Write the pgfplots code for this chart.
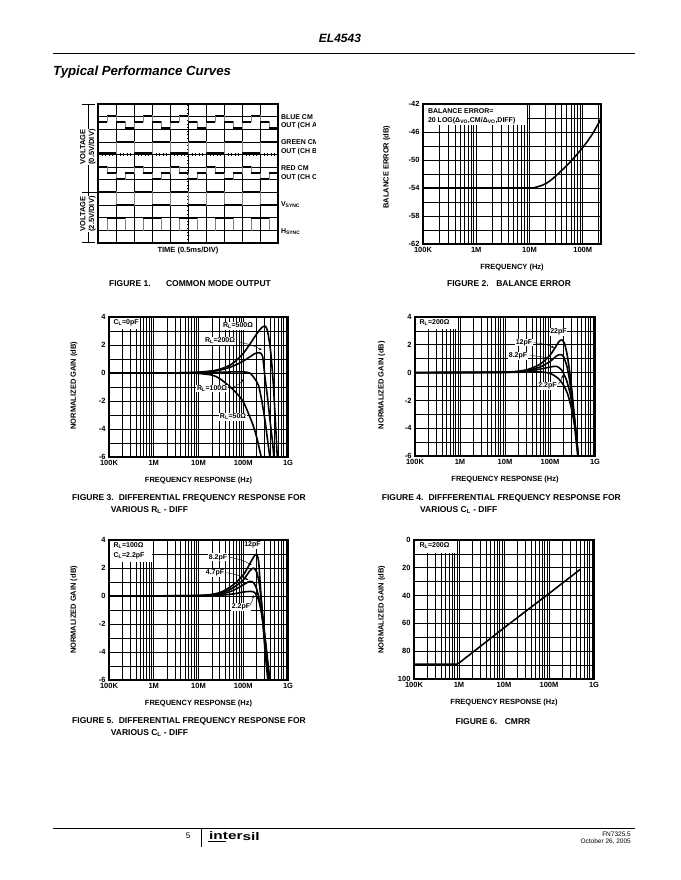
\documentclass[border=0pt]{standalone}
\usepackage{fontspec}
\setmainfont{Liberation Sans}
\usepackage{pgfplots}
\pgfplotsset{compat=1.18}
\usetikzlibrary{arrows.meta}

\pgfplotsset{
  sheet/.style={
    scale only axis, anchor=north west,
    axis line style={line width=1.1pt},
    grid=both,
    major grid style={black, line width=0.75pt},
    minor grid style={black, line width=0.75pt},
    major tick length=0pt, minor tick length=0pt,
    tick label style={font=\bfseries\fontsize{7.5}{9}\selectfont},
    label style={font=\bfseries\fontsize{7.5}{9}\selectfont},
    /pgf/number format/assume math mode=true,
  },
  fqaxis/.style={xmin=1e5, xmax=1e9,
    xtick={1e5,1e6,1e7,1e8,1e9}, xticklabels={100K,1M,10M,100M,1G},
    minor xtick={2e5,3e5,4e5,5e5,6e5,7e5,8e5,9e5,2e6,3e6,4e6,5e6,6e6,7e6,8e6,9e6,
      2e7,3e7,4e7,5e7,6e7,7e7,8e7,9e7,2e8,3e8,4e8,5e8,6e8,7e8,8e8,9e8},
    xlabel={FREQUENCY RESPONSE (Hz)},
    xlabel style={at={(axis description cs:0.5,-0.17)}, anchor=center},
  },
  gainaxis/.style={ymin=-6, ymax=4, ytick={-6,-4,-2,0,2,4}, yticklabels={-6,-4,-2,0,2,4},
    minor ytick={-5,-3,-1,1,3}, ylabel={NORMALIZED GAIN (dB)}},
  crv/.style={black, line width=1.6pt, smooth, tension=0.4, line join=round},
  scopetrace/.style={black, line width=1.7pt, jump mark left},
  scopeedge/.style={gray, line width=0.4pt, const plot},
}
\tikzset{
  lbl/.style={font=\bfseries\fontsize{7}{8.5}\selectfont, inner sep=0.8pt},
  figcap/.style={font=\bfseries\fontsize{8.5}{10}\selectfont, inner sep=0pt},
  arr/.style={line width=0.4pt, -{Stealth[length=3pt,width=2.2pt]}},
}

% scope traces of figure 1 (grid units: 10 x 11 divisions)
\pgfplotstableread{
x y
0 9.6
0.5 10.1
1 9.6
1.5 9.1
2 9.6
2.5 10.1
3 9.6
3.5 9.1
4 9.6
4.5 10.1
5 9.6
5.5 9.1
6 9.6
6.5 10.1
7 9.6
7.5 9.1
8 9.6
8.5 10.1
9 9.6
9.5 9.1
10 9.1
}\blue
\pgfplotstableread{
x y
0 7.1
1 8.03
2 7.1
3 8.03
4 7.1
5 8.03
6 7.1
7 8.03
8 7.1
9 8.03
10 8.03
}\green
\pgfplotstableread{
x y
0 6.05
0.5 5.55
1 5.05
1.5 5.55
2 6.05
2.5 5.55
3 5.05
3.5 5.55
4 6.05
4.5 5.55
5 5.05
5.5 5.55
6 6.05
6.5 5.55
7 5.05
7.5 5.55
8 6.05
8.5 5.55
9 5.05
9.5 5.55
10 5.55
}\red
\pgfplotstableread{
x y
0 4.08
1 3.03
2 4.08
3 3.03
4 4.08
5 3.03
6 4.08
7 3.03
8 4.08
9 3.03
10 3.03
}\vsync
\pgfplotstableread{
x y
0 1.0
0.5 1.97
1.5 1.0
2.5 1.97
3.5 1.0
4.5 1.97
5.5 1.0
6.5 1.97
7.5 1.0
8.5 1.97
9.5 1.0
10 1.0
}\hsync

\begin{document}
\begin{tikzpicture}
\fill[white] (0pt,0pt) rectangle (680pt,-880pt);
\useasboundingbox (0pt,0pt) rectangle (680pt,-880pt);

% ---------- Figure 1: common mode output ----------
\begin{axis}[sheet, at={(98pt,-104pt)}, width=180pt, height=139pt,
  xmin=0, xmax=10, ymin=0, ymax=11, grid=major,
  xtick={0,...,10}, ytick={0,...,11}, xticklabels={}, yticklabels={},
  xlabel={TIME (0.5ms/DIV)},
  xlabel style={at={(axis description cs:0.5,-0.055)}, anchor=center}]
  \addplot[black, line width=2.5pt, dash pattern=on 0.7pt off 2.9pt] coordinates {(5,0) (5,11)};
  \addplot[black, line width=2.5pt, dash pattern=on 0.7pt off 2.9pt] coordinates {(0,7) (10,7)};
  \addplot[scopeedge] table {\blue};
  \addplot[scopetrace] table {\blue};
  \addplot[scopeedge] table {\green};
  \addplot[scopetrace] table {\green};
  \addplot[scopeedge] table {\red};
  \addplot[scopetrace] table {\red};
  \addplot[scopeedge] table {\vsync};
  \addplot[scopetrace] table {\vsync};
  \addplot[scopeedge] table {\hsync};
  \addplot[scopetrace] table {\hsync};
\end{axis}

% ---------- Figure 2: balance error ----------
\begin{axis}[sheet, at={(423pt,-104pt)}, width=178pt, height=140pt,
  xmode=log, xmin=1e5, xmax=2.2e8,
  xtick={1e5,1e6,1e7,1e8}, xticklabels={100K,1M,10M,100M},
  minor xtick={2e5,3e5,4e5,5e5,6e5,7e5,8e5,9e5,2e6,3e6,4e6,5e6,6e6,7e6,8e6,9e6,
      2e7,3e7,4e7,5e7,6e7,7e7,8e7,9e7,2e8},
  ymin=-62, ymax=-42, ytick={-62,-58,-54,-50,-46,-42},
  yticklabels={-62,-58,-54,-50,-46,-42}, minor ytick={-60,-56,-52,-48,-44},
  xlabel={FREQUENCY (Hz)}, ylabel={BALANCE ERROR (dB)},
  xlabel style={at={(axis description cs:0.5,-0.17)}, anchor=center},
  ylabel style={at={(axis description cs:-0.204,0.55)}, anchor=center}]
  \addplot[crv] coordinates {(1e5,-54) (1e6,-54) (1e7,-54) (1.3e7,-53.9) (1.6e7,-53.7)
    (2e7,-53.4) (2.5e7,-52.9) (3.2e7,-52.2) (4e7,-51.5) (5e7,-50.8) (6.3e7,-50.0)
    (8e7,-49.1) (1e8,-48.2) (1.26e8,-47.2) (1.6e8,-46.0) (2e8,-44.7) (2.2e8,-44.0)};
\end{axis}

% ---------- Figure 3: various RL ----------
\begin{axis}[sheet, xmode=log, fqaxis, gainaxis, at={(109pt,-317pt)}, width=179pt, height=140pt,
  ylabel style={at={(axis description cs:-0.196,0.51)}, anchor=center}]
  % RL = 500 ohm
  \addplot[crv] coordinates {(1e5,0) (1e6,0) (5e6,0.02) (1e7,0.06) (2e7,0.15) (3e7,0.27)
    (5e7,0.55) (7e7,0.9) (1e8,1.4) (1.4e8,2.05) (2e8,2.8) (2.6e8,3.25) (3.1e8,3.35)
    (3.5e8,3.0) (4e8,1.8) (4.3e8,0.8) (4.7e8,-0.8) (5.1e8,-2.8) (5.8e8,-6.2)};
  % RL = 200 ohm
  \addplot[crv] coordinates {(1e5,0) (1e6,0) (5e6,0.01) (1e7,0.04) (2e7,0.12) (3e7,0.2)
    (5e7,0.4) (7e7,0.6) (1e8,0.85) (1.4e8,1.15) (1.8e8,1.38) (2.3e8,1.45) (2.7e8,1.2)
    (3.06e8,-0.3) (3.5e8,-1.8) (4e8,-3.5) (4.5e8,-4.9) (4.9e8,-6.2)};
  % RL = 100 ohm
  \addplot[crv] coordinates {(1e5,0) (1e7,0.02) (3e7,0.05) (6e7,0.08) (1e8,0.08)
    (1.4e8,0.0) (1.8e8,-0.4) (2.2e8,-0.9) (2.6e8,-2.0) (3.1e8,-3.5) (3.5e8,-4.8) (4e8,-6.2)};
  % RL = 50 ohm
  \addplot[crv] coordinates {(1e5,0) (5e6,0) (1e7,-0.03) (2e7,-0.15) (3e7,-0.4)
    (6e7,-1.2) (1e8,-2.05) (1.6e8,-3.6) (2e8,-4.6) (2.6e8,-6.2)};
\end{axis}

% ---------- Figure 4: various CL, RL = 200 ----------
\begin{axis}[sheet, xmode=log, fqaxis, gainaxis, at={(415pt,-317pt)}, width=180pt, height=139pt,
  ylabel style={at={(axis description cs:-0.185,0.51)}, anchor=center}]
  % 22 pF
  \addplot[crv] coordinates {(1e5,0) (1e7,0.04) (3e7,0.2) (6e7,0.6) (1e8,1.25) (1.3e8,1.8)
    (1.6e8,2.25) (1.85e8,2.35) (2.1e8,2.1) (2.4e8,1.3) (2.7e8,0.2) (3e8,-1.0) (3.4e8,-2.8)
    (3.8e8,-4.4) (4.3e8,-6.2)};
  % 12 pF
  \addplot[crv] coordinates {(1e5,0) (1e7,0.03) (3e7,0.15) (6e7,0.4) (1e8,0.8) (1.4e8,1.2)
    (1.7e8,1.3) (2e8,1.15) (2.4e8,0.4) (2.8e8,-0.8) (3.3e8,-2.6) (3.8e8,-4.4) (4.3e8,-6.2)};
  % 8.2 pF
  \addplot[crv] coordinates {(1e5,0) (1e7,0.02) (3e7,0.1) (6e7,0.25) (1e8,0.4) (1.4e8,0.45)
    (1.8e8,0.2) (2.3e8,-0.5) (2.8e8,-1.5) (3.3e8,-2.9) (3.8e8,-4.5) (4.3e8,-6.2)};
  % 2.2 pF
  \addplot[crv] coordinates {(1e5,0) (1e7,0.01) (3e7,0.04) (6e7,0.05) (1e8,-0.05)
    (1.5e8,-0.4) (2e8,-0.9) (2.5e8,-1.6) (3e8,-2.6) (3.5e8,-3.8) (4.2e8,-6.2)};
\end{axis}

% ---------- Figure 5: various CL, RL = 100 ----------
\begin{axis}[sheet, xmode=log, fqaxis, gainaxis, at={(109pt,-540pt)}, width=179pt, height=140pt,
  ylabel style={at={(axis description cs:-0.196,0.5)}, anchor=center}]
  % 12 pF
  \addplot[crv] coordinates {(1e5,0) (1e7,0.04) (3e7,0.25) (6e7,0.8) (1e8,1.5) (1.4e8,2.3)
    (1.8e8,2.9) (2e8,2.95) (2.2e8,2.5) (2.4e8,0.8) (2.8e8,-2.3) (3.2e8,-4.6) (3.6e8,-6.2)};
  % 8.2 pF
  \addplot[crv] coordinates {(1e5,0) (1e7,0.03) (3e7,0.18) (6e7,0.6) (1e8,1.15) (1.4e8,1.8)
    (1.7e8,2.0) (2e8,1.7) (2.3e8,0.8) (2.7e8,-1.2) (3.1e8,-3.2) (3.8e8,-6.2)};
  % 4.7 pF
  \addplot[crv] coordinates {(1e5,0) (1e7,0.02) (3e7,0.12) (6e7,0.4) (1e8,0.8) (1.4e8,1.05)
    (1.7e8,0.95) (2e8,0.5) (2.4e8,-0.6) (2.8e8,-2.1) (3.2e8,-3.7) (3.9e8,-6.2)};
  % 2.2 pF
  \addplot[crv] coordinates {(1e5,0) (1e7,0.01) (3e7,0.05) (6e7,0.15) (1e8,0.28) (1.4e8,0.33)
    (1.8e8,0.25) (2.2e8,-0.3) (2.6e8,-1.3) (3e8,-2.7) (3.4e8,-4.2) (4e8,-6.2)};
\end{axis}

% ---------- Figure 6: CMRR ----------
\begin{axis}[sheet, xmode=log, fqaxis, at={(414pt,-540pt)}, width=180pt, height=139pt,
  y dir=reverse, ymin=0, ymax=100, ytick={0,20,40,60,80,100},
  yticklabels={0,20,40,60,80,100}, minor ytick={10,30,50,70,90},
  ylabel={NORMALIZED GAIN (dB)},
  ylabel style={at={(axis description cs:-0.18,0.5)}, anchor=center}]
  \addplot[black, line width=1.6pt] coordinates {(1e5,89.3) (9e5,89.3) (1e6,88.5)
    (1e7,63.2) (1e8,38.5) (5e8,21)};
\end{axis}

% ---------- page text and annotations ----------
\begin{scope}[x=1pt, y=-1pt]
  % header
  \node[font=\bfseries\itshape\fontsize{12}{14}\selectfont] at (340,38) {EL4543};
  \draw[line width=1pt] (53,54) -- (635,54);
  \node[font=\bfseries\itshape\fontsize{13.2}{15}\selectfont, anchor=west, inner sep=0pt]
    at (53,72.5) {Typical Performance Curves};

  % figure 1 brackets and labels
  \draw[line width=0.6pt] (88,104) -- (88,192) (82,104) -- (95,104) (82,192) -- (97,192);
  \draw[line width=0.6pt] (88,193) -- (88,242) (82,242) -- (95,242);
  \node[fill=white, inner sep=0.5pt, rotate=90, align=center, font=\bfseries\fontsize{7.5}{8.8}\selectfont]
    at (88,147) {VOLTAGE\\(0.5V/DIV)};
  \node[fill=white, inner sep=0.5pt, rotate=90, align=center, font=\bfseries\fontsize{7.5}{8.8}\selectfont]
    at (88,214) {VOLTAGE\\(2.5V/DIV)};
  \begin{scope}
    \clip (279,100) rectangle (315.5,245);
    \node[lbl, anchor=west] at (280,116.7) {BLUE CM};
    \node[lbl, anchor=west] at (280,125.5) {OUT (CH A)};
    \node[lbl, anchor=west] at (280,142.3) {GREEN CM};
    \node[lbl, anchor=west] at (280,151.5) {OUT (CH B)};
    \node[lbl, anchor=west] at (280,168.3) {RED CM};
    \node[lbl, anchor=west] at (280,177.3) {OUT (CH C)};
    \node[lbl, anchor=west] at (280,205) {V\textsubscript{SYNC}};
    \node[lbl, anchor=west] at (280,231.7) {H\textsubscript{SYNC}};
  \end{scope}
  \node[figcap] at (190,284) {FIGURE 1.\hspace{1.8em}COMMON MODE OUTPUT};

  % figure 2
  \fill[white] (423.6,104.6) rectangle (527,125);
  \node[lbl, anchor=west] at (427,111) {BALANCE ERROR=};
  \node[lbl, anchor=west] at (427,120.5) {20 LOG(Δ\textsubscript{VO},CM/Δ\textsubscript{VO},DIFF)};
  \node[figcap] at (509,284) {FIGURE 2.\hspace{0.9em}BALANCE ERROR};

  % figure 3
  \fill[white] (109.6,317.6) rectangle (140,328.5);
  \node[lbl, anchor=west] at (112.5,322.5) {C\textsubscript{L}=0pF};
  \node[lbl, fill=white] at (238,326) {R\textsubscript{L}=500Ω};
  \node[lbl, fill=white] at (220,341) {R\textsubscript{L}=200Ω};
  \draw[arr] (239,342.3) to[bend left=10] (261.7,350);
  \node[lbl, fill=white] at (212,388.3) {R\textsubscript{L}=100Ω};
  \draw[arr] (230.7,388.3) to[bend right=15] (243.7,379);
  \node[lbl, fill=white] at (233,417) {R\textsubscript{L}=50Ω};
  \node[figcap, anchor=west] at (72,498.3) {FIGURE 3.\hspace{0.6em}DIFFERENTIAL FREQUENCY RESPONSE FOR};
  \node[figcap, anchor=west] at (110.7,510) {VARIOUS R\textsubscript{L} - DIFF};

  % figure 4
  \fill[white] (415.6,317.6) rectangle (457,328.5);
  \node[lbl, anchor=west] at (418.5,322.5) {R\textsubscript{L}=200Ω};
  \node[lbl, fill=white] at (558.5,332) {22pF};
  \node[lbl, fill=white] at (524,342.5) {12pF};
  \draw[arr] (533.5,342.7) to[bend left=10] (554.3,347.7);
  \node[lbl, fill=white] at (518,356) {8.2pF};
  \draw[arr] (529.5,355.7) to[bend left=10] (548.3,359);
  \node[lbl, fill=white] at (547.5,386) {2.2pF};
  \draw[arr] (558.3,384.3) to[bend right=15] (562.7,375);
  \node[figcap, anchor=west] at (381.7,498.3) {FIGURE 4.\hspace{0.6em}DIFFFERENTIAL FREQUENCY RESPONSE FOR};
  \node[figcap, anchor=west] at (420,510) {VARIOUS C\textsubscript{L} - DIFF};

  % figure 5
  \fill[white] (109.6,540.6) rectangle (152,562);
  \node[lbl, anchor=west] at (112.5,545.5) {R\textsubscript{L}=100Ω};
  \node[lbl, anchor=west] at (112.5,555.5) {C\textsubscript{L}=2.2pF};
  \node[lbl, fill=white] at (252.5,545) {12pF};
  \node[lbl, fill=white] at (218,557.3) {8.2pF};
  \draw[arr] (229.5,557.3) to[bend left=10] (251.7,565);
  \node[lbl, fill=white] at (215,572.7) {4.7pF};
  \draw[arr] (226.5,572.7) to[bend left=10] (248.3,580);
  \node[lbl, fill=white] at (241,607) {2.2pF};
  \draw[arr] (250,605) to[bend right=15] (253.3,595);
  \node[figcap, anchor=west] at (72,721.7) {FIGURE 5.\hspace{0.6em}DIFFERENTIAL FREQUENCY RESPONSE FOR};
  \node[figcap, anchor=west] at (110.7,733.3) {VARIOUS C\textsubscript{L} - DIFF};

  % figure 6
  \fill[white] (414.6,540.6) rectangle (457,553);
  \node[lbl, anchor=west] at (418.5,546) {R\textsubscript{L}=200Ω};
  \node[figcap] at (493,721.7) {FIGURE 6.\hspace{0.9em}CMRR};

  % footer
  \draw[line width=1pt] (53,828) -- (635,828);
  \draw[line width=0.6pt] (201,828) -- (201,846.5);
  \node[font=\fontsize{8}{9}\selectfont] at (188,835.5) {5};
  \node[anchor=west, inner sep=0pt, font=\bfseries\fontsize{11}{11}\selectfont] at (209,836)
    {\scalebox{1.4}[1]{inter\raisebox{-1.2pt}{sil}}};
  \draw[line width=0.6pt] (208,841.5) -- (226,841.5);
  \node[anchor=east, inner sep=0pt, font=\fontsize{6.5}{7}\selectfont] at (631,834.5) {FN7325.5};
  \node[anchor=east, inner sep=0pt, font=\fontsize{6.5}{7}\selectfont] at (631,842) {October 26, 2005};
\end{scope}
\end{tikzpicture}
\end{document}
